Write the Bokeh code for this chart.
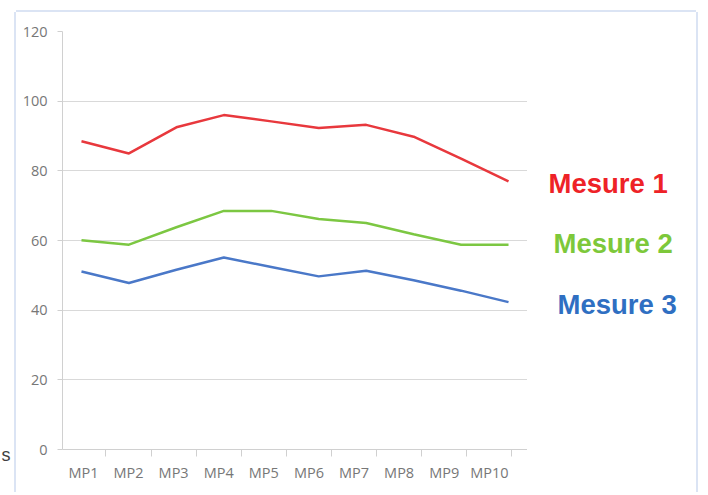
from bokeh.plotting import figure
from bokeh.models import Range1d, FixedTicker, Spacer, ColumnDataSource, LinearAxis
from bokeh.layouts import row, column
from bokeh.core.properties import value
from bokeh.embed import file_html
from bokeh.resources import INLINE

categories = ["MP1", "MP2", "MP3", "MP4", "MP5", "MP6", "MP7", "MP8", "MP9", "MP10"]
mesure1 = [88.5, 85.0, 92.5, 96.0, 94.2, 92.3, 93.2, 89.8, 83.5, 77.0]
mesure2 = [60.1, 58.8, 63.8, 68.5, 68.5, 66.2, 65.0, 61.8, 58.8, 58.8]
mesure3 = [51.1, 47.8, 51.6, 55.1, 52.4, 49.7, 51.3, 48.6, 45.6, 42.3]
series_names = ["Mesure 1", "Mesure 2", "Mesure 3"]
y_ticks = [0, 20, 40, 60, 80, 100, 120]
cut_text = ["s"]

line_colors = ["#e8383d", "#7cc742", "#4a78c8"]
text_colors = ["#ee2227", "#7dc83a", "#2f6fc2"]
label_dx = [21, 26, 30]
label_dy = [2, -1, 2]

xs = list(range(1, len(categories) + 1))
all_series = [mesure1, mesure2, mesure3]

H = 480
yr = Range1d(0, 120)
p = figure(width=511, height=H, output_backend="svg", toolbar_location=None,
           x_range=Range1d(0.6, 10.4), y_range=yr, x_axis_location=None,
           min_border_left=46, min_border_right=0, min_border_top=19, min_border_bottom=43)
p.outline_line_color = None
p.extra_x_ranges = {"cat": Range1d(0.536, 10.846)}

for vals, c in zip(all_series, line_colors):
    p.line(xs, vals, line_color=c, line_width=2.5)

# x axis (category axis on its own scale)
xax = LinearAxis(x_range_name="cat")
xax.ticker = FixedTicker(ticks=xs, minor_ticks=[x + 0.5 for x in range(0, 11)])
xax.major_label_overrides = {x: c for x, c in zip(xs, categories)}
xax.major_tick_out = 0
xax.major_tick_in = 0
xax.minor_tick_out = 7
xax.minor_tick_in = 0
xax.minor_tick_line_color = "#d0d0d0"
xax.axis_line_color = "#d0d0d0"
xax.major_label_text_font = "Open Sans"
xax.major_label_text_font_size = "14.5px"
xax.major_label_text_color = "#777777"
xax.major_label_standoff = 6
p.add_layout(xax, "below")

# y axis
p.yaxis.ticker = FixedTicker(ticks=y_ticks)
p.yaxis.minor_tick_line_color = None
p.yaxis.major_tick_out = 5
p.yaxis.major_tick_in = 0
p.yaxis.major_tick_line_color = "#d0d0d0"
p.yaxis.axis_line_color = "#d0d0d0"
p.yaxis.major_label_text_font = "Open Sans"
p.yaxis.major_label_text_font_size = "14.5px"
p.yaxis.major_label_text_color = "#777777"
p.yaxis.major_label_standoff = 10

p.xgrid.grid_line_color = None
p.ygrid.grid_line_color = "#d9d9d9"
p.ygrid.grid_line_width = 1

# label panel, sharing the y scale
p2 = figure(width=169, height=H, output_backend="svg", toolbar_location=None,
            x_range=Range1d(0, 169), y_range=yr,
            min_border_left=0, min_border_right=0, min_border_top=19, min_border_bottom=43)
p2.axis.visible = False
p2.grid.visible = False
p2.outline_line_color = None
src = ColumnDataSource(dict(x=[0] * len(series_names), y=[s[-1] for s in all_series],
                            text=series_names, color=text_colors,
                            dx=label_dx, dy=label_dy))
p2.text(x="x", y="y", text="text", text_color="color", x_offset="dx", y_offset="dy",
        text_baseline="middle", text_align="left",
        text_font=value("Liberation Sans"), text_font_style="bold",
        text_font_size="27.5px", source=src)

# small cut-off text at the far left
p0 = figure(width=16, height=H, output_backend="svg", toolbar_location=None,
            x_range=Range1d(0, 16), y_range=Range1d(0, H),
            min_border_left=0, min_border_right=0, min_border_top=0, min_border_bottom=0)
p0.axis.visible = False
p0.grid.visible = False
p0.outline_line_color = None
p0.text(x=[10], y=[H - 442], text=cut_text, text_align="right", text_baseline="middle",
        text_font=value("Liberation Sans"), text_font_size="18px", text_color="#404040")

inner = row(p, p2, spacing=0)
inner.styles = {"box-shadow": "-2px 0 0 0 #dbe4f4, 2px 0 0 0 #dbe4f4, 0 -2px 0 0 #dbe4f4"}
layout = column(Spacer(height=12), row(p0, inner, spacing=0), spacing=0)

open("out.html", "w").write(file_html(layout, INLINE))
